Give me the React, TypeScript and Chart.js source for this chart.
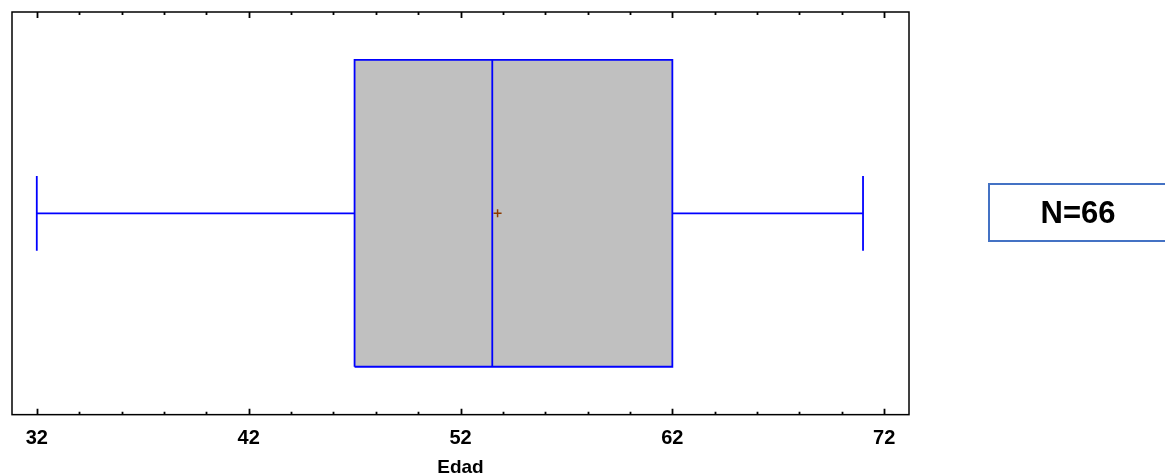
import React, { useEffect, useRef } from "react";
import { Chart, registerables } from "chart.js";

Chart.register(...registerables);

// ---- data ----
const variableName = "Edad";
const sampleSizeLabel = "N=66";
const minimum = [32];
const q1 = [47];
const median = [53.5];
const q3 = [62];
const maximum = [71];
const mean = [53.75];
const xTickValues = [32, 42, 52, 62, 72];
const xMinorStep = 2;
const xRange = [30.83, 73.17];

const BOX_HALF = 0.762;
const CAP_HALF = 0.186;
const BLUE = "#0000FF";

const framePlugin = {
  id: "frameTicks",
  afterDatasetsDraw(chart: any) {
    const { ctx, chartArea } = chart;
    const xs = chart.scales.x;
    ctx.save();
    ctx.strokeStyle = "#000";
    ctx.lineWidth = 1.5;
    ctx.strokeRect(chartArea.left, chartArea.top, chartArea.right - chartArea.left, chartArea.bottom - chartArea.top);
    ctx.lineWidth = 1.8;
    const first = xTickValues[0];
    const last = xTickValues[xTickValues.length - 1];
    for (let v = first; v <= last + 1e-9; v += xMinorStep) {
      const major = xTickValues.some((t) => Math.abs(t - v) < 1e-9);
      const len = major ? 6 : 3;
      const px = Math.round(xs.getPixelForValue(v)) + 0.5;
      ctx.beginPath();
      ctx.moveTo(px, chartArea.top);
      ctx.lineTo(px, chartArea.top + len);
      ctx.moveTo(px, chartArea.bottom);
      ctx.lineTo(px, chartArea.bottom - len);
      ctx.stroke();
    }
    ctx.restore();
  },
};

export default function App() {
  const ref = useRef<HTMLCanvasElement | null>(null);

  useEffect(() => {
    if (!ref.current) return;
    const i = 0;
    const line = (pts: { x: number; y: number }[], extra: any = {}) => ({
      type: "scatter",
      data: pts,
      showLine: true,
      borderColor: BLUE,
      borderWidth: 1.8,
      pointRadius: 0,
      fill: false,
      ...extra,
    });
    // Chart.js draws the first dataset on top, so the box goes last
    const datasets: any[] = [
      {
        type: "scatter",
        data: [{ x: mean[i], y: 0 }],
        pointStyle: "cross",
        pointRadius: 4,
        borderWidth: 1.5,
        borderColor: "#8B3A00",
        showLine: false,
      },
      line([
        { x: median[i], y: -BOX_HALF },
        { x: median[i], y: BOX_HALF },
      ]),
      line([
        { x: minimum[i], y: 0 },
        { x: q1[i], y: 0 },
      ]),
      line([
        { x: q3[i], y: 0 },
        { x: maximum[i], y: 0 },
      ]),
      line([
        { x: minimum[i], y: -CAP_HALF },
        { x: minimum[i], y: CAP_HALF },
      ]),
      line([
        { x: maximum[i], y: -CAP_HALF },
        { x: maximum[i], y: CAP_HALF },
      ]),
      line(
        [
          { x: q1[i], y: -BOX_HALF },
          { x: q3[i], y: -BOX_HALF },
          { x: q3[i], y: BOX_HALF },
          { x: q1[i], y: BOX_HALF },
          { x: q1[i], y: -BOX_HALF },
        ],
        { fill: "shape", backgroundColor: "#C0C0C0" }
      ),
    ];

    const chart = new Chart(ref.current, {
      type: "scatter",
      data: { datasets },
      options: {
        animation: false,
        responsive: false,
        events: [],
        layout: { padding: { left: 12, top: 12, right: 256, bottom: 0 } },
        plugins: { legend: { display: false }, tooltip: { enabled: false } },
        scales: {
          x: {
            type: "linear",
            min: xRange[0],
            max: xRange[1],
            afterBuildTicks: (scale: any) => {
              scale.ticks = xTickValues.map((v) => ({ value: v }));
            },
            grid: { display: false, drawTicks: false },
            border: { display: false },
            ticks: {
              color: "#000",
              padding: 14,
              maxRotation: 0,
              autoSkip: false,
              font: { family: "Liberation Sans, Arial, sans-serif", size: 20, weight: "bold", lineHeight: 1 },
            },
            title: {
              display: true,
              text: variableName,
              color: "#000",
              padding: { top: -1, bottom: 0 },
              font: { family: "Liberation Sans, Arial, sans-serif", size: 19, weight: "bold", lineHeight: 0.65 },
            },
          },
          y: { type: "linear", min: -1, max: 1, display: false },
        },
      } as any,
      plugins: [framePlugin],
    } as any);
    return () => chart.destroy();
  }, []);

  return (
    <div style={{ position: "fixed", left: 0, top: 0, width: 1165, height: 474, background: "#fff", overflow: "hidden" }}>
      <canvas ref={ref} width={1165} height={474} style={{ position: "absolute", left: 0, top: 0 }} />
      <div
        style={{
          position: "absolute",
          left: 988,
          top: 183,
          width: 180,
          height: 59,
          boxSizing: "border-box",
          border: "2px solid #4472C4",
          display: "flex",
          alignItems: "center",
          justifyContent: "center",
          fontFamily: "Liberation Sans, Arial, sans-serif",
          fontWeight: "bold",
          fontSize: 31,
          color: "#000",
        }}
      >
        {sampleSizeLabel}
      </div>
    </div>
  );
}
